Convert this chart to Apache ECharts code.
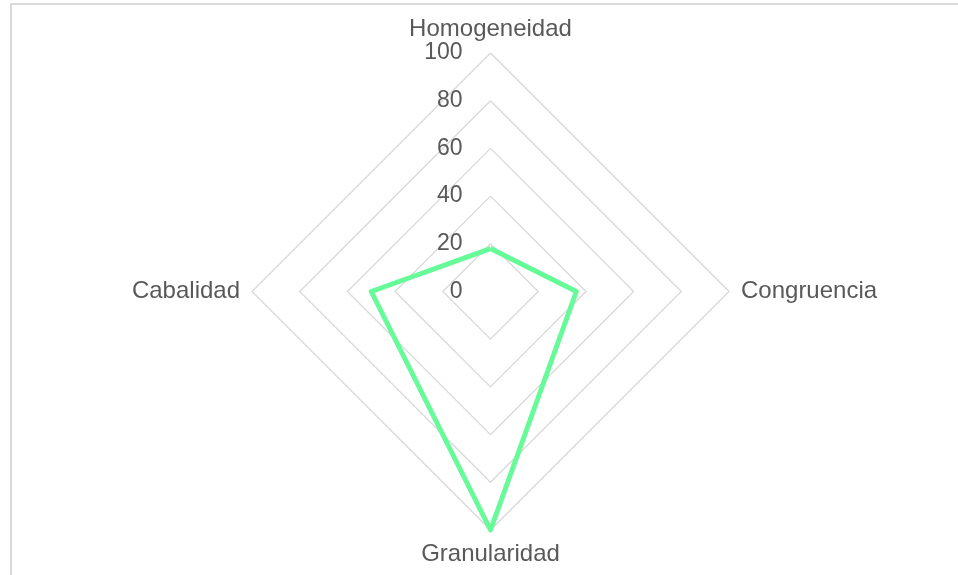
<!DOCTYPE html>
<html>
<head>
<meta charset="utf-8">
<script src="https://cdn.jsdelivr.net/npm/echarts@6/dist/echarts.min.js"></script>
<style>
  html, body { margin: 0; padding: 0; background: #fff; }
  #main { width: 958px; height: 575px; }
</style>
</head>
<body>
<div id="main"></div>
<script>
// indicadores y valores (orden antihorario de echarts: arriba, izquierda, abajo, derecha)
const indicators = ['Homogeneidad', 'Cabalidad', 'Granularidad', 'Congruencia'];
const values = [18, 50, 100, 36];
const maxValue = 100;

const chart = echarts.init(document.getElementById('main'), null, { renderer: 'canvas' });

const option = {
  backgroundColor: '#fff',
  animation: false,
  graphic: [{
    type: 'rect',
    shape: { x: 11, y: 4, width: 1000, height: 700 },
    style: { fill: 'none', stroke: '#d9d9d9', lineWidth: 2 },
    silent: true
  }],
  radar: {
    center: [490.5, 291.5],
    radius: 238.5,
    startAngle: 90,
    shape: 'polygon',
    splitNumber: 5,
    nameGap: 12,
    axisName: {
      color: '#595959',
      fontSize: 24,
      fontFamily: '"Liberation Sans", Arial, sans-serif'
    },
    indicator: indicators.map((name, i) => ({
      name: name,
      max: maxValue,
      min: 0,
      axisLabel: { show: i === 0 }
    })),
    axisLine: { show: false },
    axisTick: { show: false },
    axisLabel: {
      show: true,
      color: '#595959',
      fontSize: 23,
      fontFamily: '"Liberation Sans", Arial, sans-serif',
      margin: 28
    },
    splitLine: { lineStyle: { color: '#d9d9d9', width: 1.3 } },
    splitArea: { show: false }
  },
  series: [{
    type: 'radar',
    symbol: 'none',
    lineStyle: { color: '#66fa99', width: 5 },
    data: [{ value: values }]
  }]
};

chart.setOption(option);
</script>
</body>
</html>
